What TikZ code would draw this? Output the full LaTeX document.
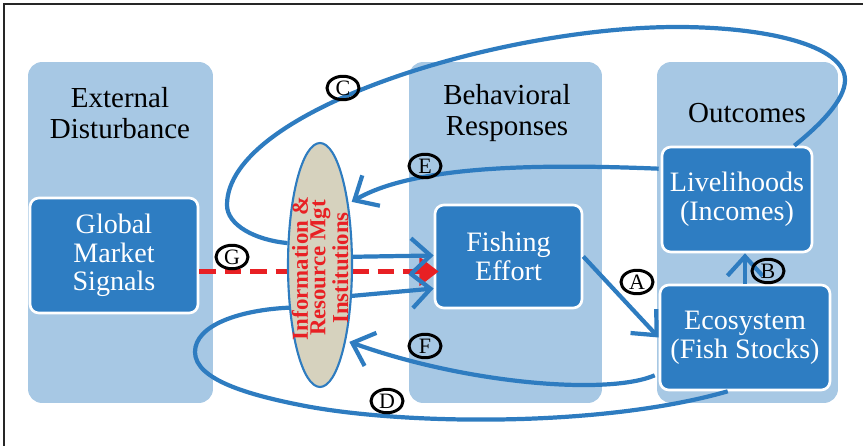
\documentclass[tikz,border=0pt]{standalone}
\usepackage{fontspec}
\setmainfont{Liberation Serif}
\usetikzlibrary{positioning, shapes.geometric, arrows.meta, calc}

\definecolor{panelblue}{RGB}{167,200,228}
\definecolor{boxblue}{RGB}{46,125,194}
\definecolor{flowblue}{RGB}{46,124,192}
\definecolor{lensfill}{RGB}{214,210,190}
\definecolor{sigred}{RGB}{232,32,36}

\tikzset{
  panel/.style={fill=panelblue, rounded corners=8pt, minimum height=6.82cm, inner sep=0pt},
  title/.style={align=center, font=\fontsize{16.5}{17.6}\selectfont},
  box/.style={fill=boxblue, draw=white, line width=1.5pt, rounded corners=5pt, text=white,
    align=center, inner sep=0pt, font=\fontsize{16}{16.3}\selectfont},
  lens/.style={ellipse, draw=flowblue, line width=1.2pt, fill=lensfill, inner sep=0pt,
    minimum width=1.28cm, minimum height=4.88cm},
  lenstext/.style={align=center, text=sigred, font=\fontsize{13}{10}\selectfont\bfseries},
  link/.style={draw=flowblue, line width=2.4pt},
  flow/.style={link, -{Straight Barb[length=11pt,width=20pt]}},
  sig/.style={draw=sigred, line width=3.2pt, dash pattern=on 9.5pt off 5pt,
    -{Triangle[length=11pt,width=16pt]}},
  lbl/.style={ellipse, draw=black, line width=1.7pt, inner sep=0pt,
    minimum width=0.64cm, minimum height=0.47cm, font=\fontsize{12.5}{12.5}\selectfont}
}

\begin{document}
\begin{tikzpicture}[x=0.02cm, y=-0.02cm]
  \useasboundingbox (0,0) rectangle (863,446);
  \draw[line width=1.7pt, black!85] (4,446) -- (4,4) -- (863,4);

  % columns
  \node[panel, minimum width=3.7cm] (ext) at (120.5,232.5) {};
  \node[panel, minimum width=3.86cm] (beh) at (505.5,232.5) {};
  \node[panel, minimum width=3.62cm] (out) at (747.5,232.5) {};

  \node[title] (exttitle) at (120,113) {External\\Disturbance};
  \node[title] (behtitle) at (507,113) {Behavioral\\Responses};
  \node[title] (outtitle) at (747,113) {Outcomes};

  % boxes
  \node[box, minimum width=3.36cm, minimum height=2.3cm] (gms) at (114,255.5) {Global\\Market\\Signals};
  \node[box, minimum width=2.94cm, minimum height=2.06cm] (fish) at (508.5,256.5) {Fishing\\Effort};
  \node[box, minimum width=3cm, minimum height=2.1cm] (live) at (737,199.5) {Livelihoods\\(Incomes)};
  \node[box, minimum width=3.4cm, minimum height=2.1cm] (eco) at (745,337.5) {Ecosystem\\(Fish Stocks)};

  % market signal passes behind the institutions
  \draw[sig] ($(gms.east)+(0,16)$) -- ($(fish.west)+(5,15)$);

  \node[lens] (inst) at (320,265) {};
  \node[lenstext, rotate=90] (insttxt) at ($(inst.center)+(0,3)$) {Information \&\\Resource Mgt\\Institutions};

  % links
  \draw[flow] (fish.east) -- (eco.west);
  \draw[flow] (eco.north) -- (eco.north |- live.south);
  \draw[link] ($(live.north east)+(-19,0)$) .. controls (820,125) and (845,100) .. (845,80)
    .. controls (845,45) and (765,27) .. (677,27)
    .. controls (500,27) and (227,110) .. (227,205)
    .. controls (227,225) and (255,240) .. (inst.146);
  \draw[link] ($(eco.south west)!0.4!(eco.south east)$) .. controls (600,428) and (400,425) .. (300,405)
    .. controls (250,395) and (195,380) .. (195,352)
    .. controls (195,325) and (240,310) .. (inst.-126);
  \draw[flow, shorten >=2pt] ($(live.north west)+(-2,23)$) .. controls (520,163) and (410,168) .. (inst.65);
  \draw[flow, shorten >=2pt] ($(eco.south west)+(-4,-16)$) .. controls (610,395) and (470,385) .. (inst.-71);
  \draw[flow] (inst.14) -- ($(fish.west)+(0,-1)$);
  \draw[flow] (inst.-44) -- ($(fish.west)+(0,32)$);

  % letters
  \node[lbl] (la) at (637,282) {A};
  \node[lbl] (lb) at (768,271) {B};
  \node[lbl] (lc) at (343,88) {C};
  \node[lbl] (ld) at (387,401) {D};
  \node[lbl] (le) at (425,166) {E};
  \node[lbl] (lf) at (425,346) {F};
  \node[lbl] (lg) at (232,257) {G};
\end{tikzpicture}
\end{document}
